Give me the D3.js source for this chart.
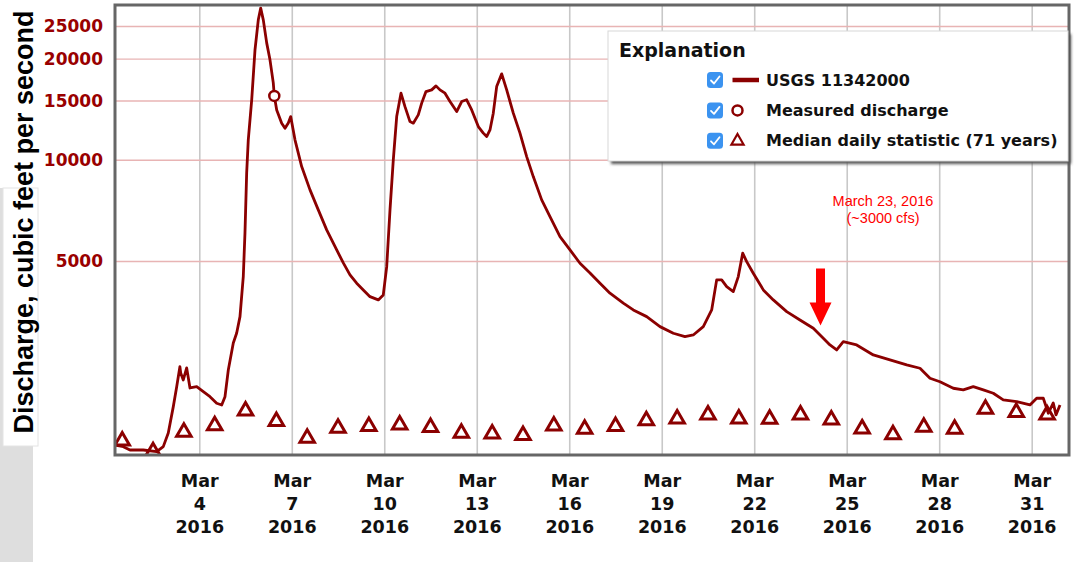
<!DOCTYPE html>
<html>
<head>
<meta charset="utf-8">
<script src="https://cdn.jsdelivr.net/npm/d3@7/dist/d3.min.js"></script>
<style>
  html, body { margin: 0; padding: 0; background: #fff; }
  svg { display: block; }
</style>
</head>
<body>
<svg id="chart" width="1077" height="562"></svg>
<script>
// Streamflow, USGS 11342000, March 2016 (cubic feet per second)
// Times are decimal day-of-March (UTC).
const flowDay = [
  1.266, 1.535, 1.752, 2.184, 2.618, 2.832, 2.994, 3.157, 3.267, 3.371, 3.397, 3.481, 3.591, 3.698,
  3.916, 4.130, 4.347, 4.564, 4.727, 4.834, 4.941, 5.103, 5.213, 5.320, 5.427, 5.482, 5.537,
  5.589, 5.700, 5.807, 5.914, 5.992, 6.076, 6.186, 6.293, 6.400, 6.433, 6.511, 6.673, 6.780,
  6.887, 6.965, 7.104, 7.321, 7.591, 7.860, 8.132, 8.457, 8.671, 8.888, 9.105, 9.319, 9.537,
  9.806, 9.968, 10.079, 10.186, 10.293, 10.403, 10.542, 10.672, 10.834, 10.941, 11.103, 11.214,
  11.353, 11.538, 11.678, 11.807, 11.970, 12.132, 12.349, 12.511, 12.673, 12.836, 13.050, 13.212,
  13.322, 13.429, 13.536, 13.646, 13.809, 13.971, 14.185, 14.402, 14.619, 14.833, 15.106, 15.375,
  15.700, 16.024, 16.348, 16.673, 16.997, 17.321, 17.753, 18.077, 18.512, 18.943, 19.375, 19.754,
  20.023, 20.348, 20.620, 20.782, 20.944, 21.107, 21.321, 21.483, 21.626, 21.755, 21.969, 22.294,
  22.618, 23.053, 23.484, 23.916, 24.240, 24.457, 24.675, 24.889, 25.323, 25.862, 26.403, 26.945,
  27.377, 27.701, 28.025, 28.457, 28.781, 29.105, 29.430, 29.754, 30.078, 30.513, 30.944, 31.161,
  31.376, 31.540, 31.700, 31.788, 31.918
];
const flowCfs = [
  1417, 1401, 1369, 1369, 1353, 1401, 1539, 1843, 2113, 2423, 2321, 2212, 2402, 2094,
  2113, 2042, 1973, 1886, 1864, 1973, 2369, 2851, 3052, 3414, 4491, 6058, 9140,
  11460, 15080, 21230, 26080, 28260, 26080, 22270, 19830, 16930, 15490, 14070, 12850, 12410,
  12870, 13440, 11460, 9543, 8136, 7093, 6185, 5392, 4932, 4543, 4292, 4100, 3915,
  3828, 3961, 4808, 7093, 9991, 13440, 15780, 14390, 12990, 12850, 13600, 14740,
  15950, 16140, 16590, 16140, 15780, 14900, 13910, 14900, 15080, 14070, 12550, 12000,
  11720, 12270, 13760, 16510, 18010, 16140, 13760, 12000, 10220, 8912, 7597, 6774,
  5906, 5392, 4922, 4606, 4292, 4009, 3743, 3575, 3414, 3188, 3046, 2976,
  3011, 3188, 3575, 4391, 4391, 4194, 4052, 4491, 5272, 4976, 4597, 4100,
  3828, 3533, 3337, 3153, 2944, 2812, 2718, 2876, 2812, 2626, 2538, 2452,
  2397, 2238, 2186, 2090, 2066, 2113, 2066, 2020, 1929, 1906, 1864, 1952,
  1952, 1761, 1890, 1741, 1864
];

// Median daily statistic (71 years), one value per day of March
const medianDays = d3.range(1, 32);
const medianCfs = [
  1473, 1369, 1563, 1636, 1809, 1682, 1500, 1606, 1625, 1644, 1614, 1552, 1546, 1528, 1633, 1595,
  1625, 1693, 1713, 1761, 1713, 1708, 1761, 1701, 1600, 1536, 1618, 1595, 1830, 1789, 1761
];

// Field measurement
const measuredDay = [6.433];
const measuredCfs = [15490];

const yTicks = [5000, 10000, 15000, 20000, 25000];
const xTickDays = [4, 7, 10, 13, 16, 19, 22, 25, 28, 31];

const legendLabels = ["USGS 11342000", "Measured discharge", "Median daily statistic (71 years)"];
const annotationLines = ["March 23, 2016", "(~3000 cfs)"];
const arrowDay = 24.15;   // 2016-03-24 03:36 UTC = evening of March 23 local time
const arrowCfs = 3000;

const RED = "#8b0000";
const dayToDate = d => new Date(Date.UTC(2016, 2, 1) + (d - 1) * 86400000);

const svg = d3.select("#chart");
const plot = { left: 115, right: 1069, top: 5, bottom: 455 };

const x = d3.scaleUtc()
  .domain([dayToDate(1.266), dayToDate(32.21)])
  .range([plot.left, plot.right]);
const y = d3.scaleLog()
  .domain([1323, 28870])
  .range([plot.bottom, plot.top]);

// left-side panel behind the axis title
svg.append("rect").attr("x", 0).attr("y", 188).attr("width", 33).attr("height", 374).attr("fill", "#dedede");
svg.append("rect").attr("x", 3).attr("y", 188).attr("width", 35).attr("height", 258)
  .attr("fill", "#fff").attr("stroke", "#e4e4e4").attr("stroke-width", 1);

const clip = svg.append("defs").append("clipPath").attr("id", "plotclip")
  .append("rect").attr("x", plot.left).attr("y", plot.top)
  .attr("width", plot.right - plot.left).attr("height", plot.bottom - plot.top);

// vertical grid
svg.append("g")
  .attr("transform", `translate(0,${plot.bottom})`)
  .call(d3.axisBottom(x).tickValues(xTickDays.map(dayToDate)).tickSize(-(plot.bottom - plot.top)).tickFormat(""))
  .call(g => g.select(".domain").remove())
  .call(g => g.selectAll(".tick line").attr("stroke", "#c8c8c8").attr("stroke-width", 1.6));

// horizontal grid
svg.append("g")
  .attr("transform", `translate(${plot.left},0)`)
  .call(d3.axisLeft(y).tickValues(yTicks).tickSize(-(plot.right - plot.left)).tickFormat(""))
  .call(g => g.select(".domain").remove())
  .call(g => g.selectAll(".tick line").attr("stroke", "#e8b4b4").attr("stroke-width", 1.4));

// y tick labels
svg.append("g")
  .attr("transform", `translate(${plot.left},0)`)
  .call(d3.axisLeft(y).tickValues(yTicks).tickSize(0).tickPadding(12).tickFormat(d3.format("d")))
  .call(g => g.select(".domain").remove())
  .call(g => g.selectAll("text")
    .attr("fill", "#990000")
    .attr("font-family", "'DejaVu Sans', Verdana, sans-serif")
    .attr("font-weight", "bold")
    .attr("font-size", 17));

// x tick labels (three lines each)
const fmtDay = d3.utcFormat("%-d");
const xAxis = svg.append("g")
  .attr("transform", `translate(0,${plot.bottom})`)
  .call(d3.axisBottom(x).tickValues(xTickDays.map(dayToDate)).tickSize(0).tickFormat(""))
  .call(g => g.select(".domain").remove());
xAxis.selectAll(".tick text").each(function(d) {
  const t = d3.select(this)
    .attr("y", 0).attr("dy", null)
    .attr("fill", "#111")
    .attr("font-family", "'DejaVu Sans', Verdana, sans-serif")
    .attr("font-weight", "bold")
    .attr("font-size", 17.5);
  [d3.utcFormat("%b")(d), fmtDay(d), d3.utcFormat("%Y")(d)].forEach((s, i) => {
    t.append("tspan").attr("x", 0).attr("y", 32 + i * 23).text(s);
  });
});

// axis title
svg.append("text")
  .attr("transform", "translate(32.5,222) rotate(-90)")
  .attr("text-anchor", "middle")
  .attr("font-family", "'Liberation Sans', Arial, sans-serif")
  .attr("font-weight", "bold")
  .attr("font-size", 27)
  .attr("fill", "#000")
  .text("Discharge, cubic feet per second");

const marks = svg.append("g").attr("clip-path", "url(#plotclip)");

// discharge line
const flow = flowDay.map((d, i) => ({ t: dayToDate(d), v: flowCfs[i] }));
marks.append("path")
  .datum(flow)
  .attr("fill", "none")
  .attr("stroke", RED)
  .attr("stroke-width", 2.8)
  .attr("stroke-linejoin", "round")
  .attr("d", d3.line().x(d => x(d.t)).y(d => y(d.v)));

// median triangles
const tri = (cx, cy, s) => `M${cx},${cy - s * 0.55}L${cx + s * 0.58},${cy + s * 0.45}L${cx - s * 0.58},${cy + s * 0.45}Z`;
marks.append("g").selectAll("path")
  .data(medianDays.map((d, i) => ({ t: dayToDate(d + 0.5), v: medianCfs[i] })))
  .join("path")
  .attr("d", d => tri(x(d.t), y(d.v), 12.5))
  .attr("fill", "none")
  .attr("stroke", RED)
  .attr("stroke-width", 3)
  .attr("stroke-linejoin", "miter");

// measured discharge
marks.append("g").selectAll("circle")
  .data(measuredDay.map((d, i) => ({ t: dayToDate(d), v: measuredCfs[i] })))
  .join("circle")
  .attr("cx", d => x(d.t)).attr("cy", d => y(d.v)).attr("r", 5)
  .attr("fill", "#fff").attr("stroke", RED).attr("stroke-width", 2.5);

// plot frame
svg.append("rect")
  .attr("x", plot.left).attr("y", plot.top)
  .attr("width", plot.right - plot.left).attr("height", plot.bottom - plot.top)
  .attr("fill", "none").attr("stroke", "#666").attr("stroke-width", 3);

// annotation
const ax = x(dayToDate(arrowDay)), ay = y(arrowCfs) - 10;
svg.append("path")
  .attr("d", `M${ax},${ay}L${ax - 11},${ay - 23}L${ax - 4.5},${ay - 23}L${ax - 4.5},${ay - 57}L${ax + 4.5},${ay - 57}L${ax + 4.5},${ay - 23}L${ax + 11},${ay - 23}Z`)
  .attr("fill", "#ff0000");
svg.append("g").selectAll("text")
  .data(annotationLines)
  .join("text")
  .attr("x", 883).attr("y", (d, i) => 206 + i * 16.5)
  .attr("text-anchor", "middle")
  .attr("font-family", "'Liberation Sans', Arial, sans-serif")
  .attr("font-size", 14.5)
  .attr("fill", "#ff0000")
  .text(d => d);

// legend
const defs = svg.select("defs");
defs.append("filter").attr("id", "blur").append("feGaussianBlur").attr("stdDeviation", 1.6);
const lg = svg.append("g").attr("transform", "translate(608,31)");
lg.append("rect").attr("x", 3).attr("y", 3).attr("width", 460).attr("height", 130)
  .attr("fill", "#555").attr("filter", "url(#blur)");
lg.append("rect").attr("width", 460).attr("height", 130)
  .attr("fill", "#fff").attr("stroke", "#d8d8d8").attr("stroke-width", 1);
lg.append("text").attr("x", 11).attr("y", 26)
  .attr("font-family", "'DejaVu Sans', Verdana, sans-serif")
  .attr("font-weight", "bold").attr("font-size", 19).attr("fill", "#111")
  .text("Explanation");
const rows = lg.selectAll("g.row").data(legendLabels).join("g")
  .attr("class", "row")
  .attr("transform", (d, i) => `translate(0,${49 + i * 30.4})`);
rows.append("rect").attr("x", 99).attr("y", -8).attr("width", 16).attr("height", 16).attr("rx", 3.5)
  .attr("fill", "#3b93f0");
rows.append("path").attr("d", "M103,0.5L106,3.5L111.5,-3.5")
  .attr("fill", "none").attr("stroke", "#fff").attr("stroke-width", 1.8)
  .attr("stroke-linecap", "round").attr("stroke-linejoin", "round");
rows.append("text").attr("x", 158).attr("y", 5.5)
  .attr("font-family", "'DejaVu Sans', Verdana, sans-serif")
  .attr("font-weight", "bold").attr("font-size", 16).attr("fill", "#111")
  .text(d => d);
rows.filter((d, i) => i === 0).append("line")
  .attr("x1", 124.5).attr("x2", 151).attr("y1", 0).attr("y2", 0)
  .attr("stroke", RED).attr("stroke-width", 4.5);
rows.filter((d, i) => i === 1).append("circle")
  .attr("cx", 129.5).attr("cy", 0).attr("r", 5).attr("fill", "none")
  .attr("stroke", RED).attr("stroke-width", 2.5);
rows.filter((d, i) => i === 2).append("path")
  .attr("d", tri(129.5, -1, 10.5)).attr("fill", "none")
  .attr("stroke", RED).attr("stroke-width", 2.2);
</script>
</body>
</html>
